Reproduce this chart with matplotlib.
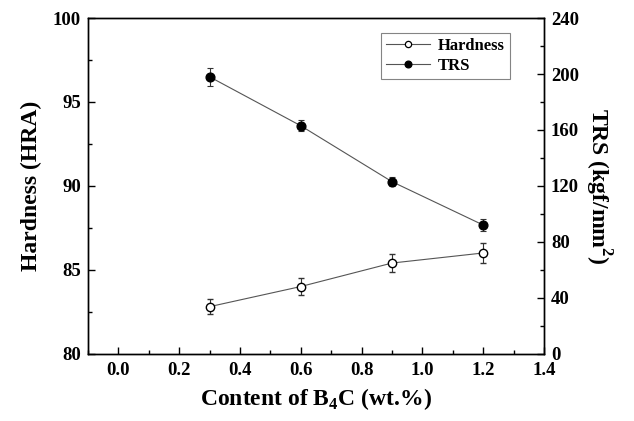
import matplotlib
matplotlib.use("Agg")
import matplotlib.pyplot as plt
from matplotlib.ticker import MultipleLocator, FormatStrFormatter
from matplotlib.lines import Line2D

plt.rcParams['font.family'] = ['Liberation Serif', 'DejaVu Serif']
plt.rcParams['font.weight'] = 'bold'
plt.rcParams['mathtext.fontset'] = 'custom'
plt.rcParams['mathtext.rm'] = 'Liberation Serif:bold'
plt.rcParams['mathtext.bf'] = 'Liberation Serif:bold'

b4c = [0.3, 0.6, 0.9, 1.2]
hardness = [82.8, 84.0, 85.4, 86.0]
hardness_err = [0.45, 0.5, 0.55, 0.6]
trs = [198, 163, 123, 92]
trs_err = [6.5, 4, 3, 4.5]

fig = plt.figure(figsize=(6.34, 4.21), dpi=100)
ax = fig.add_axes([0.1388, 0.16, 0.7192, 0.797])
ax2 = ax.twinx()

lc = '#555555'
ax.errorbar(b4c, hardness, yerr=hardness_err, fmt='-o', color=lc, lw=0.8,
            mfc='white', mec='black', mew=1.0, ms=6, ecolor='#333333',
            elinewidth=0.8, capsize=2.5, capthick=0.8)
ax2.errorbar(b4c, trs, yerr=trs_err, fmt='-o', color=lc, lw=0.8,
             mfc='black', mec='black', ms=6.3, ecolor='#333333',
             elinewidth=0.8, capsize=2.5, capthick=0.8)

ax.set_xlim(-0.1, 1.4)
ax.set_ylim(80, 100)
ax2.set_ylim(0, 240)
ax.xaxis.set_major_locator(MultipleLocator(0.2))
ax.xaxis.set_minor_locator(MultipleLocator(0.1))
ax.yaxis.set_major_locator(MultipleLocator(5))
ax.yaxis.set_minor_locator(MultipleLocator(2.5))
ax2.yaxis.set_major_locator(MultipleLocator(40))
ax2.yaxis.set_minor_locator(MultipleLocator(20))
ax.xaxis.set_major_formatter(FormatStrFormatter('%.1f'))

for a in (ax, ax2):
    for s in a.spines.values():
        s.set_linewidth(1.0)
ax.tick_params(axis='both', which='major', direction='in', length=5, width=1.0,
               labelsize=13.5, top=False, right=False)
ax.tick_params(axis='x', which='major', pad=6)
ax.tick_params(axis='y', which='major', pad=5)
ax.tick_params(axis='both', which='minor', direction='in', length=3, width=1.0,
               top=False, right=False)
ax2.tick_params(axis='y', which='major', direction='in', length=5, width=1.0,
                labelsize=13.5, pad=5)
ax2.tick_params(axis='y', which='minor', direction='in', length=3, width=1.0)

ax.set_xlabel(r'Content of B$_4$C (wt.%)', fontsize=17, fontweight='bold', labelpad=5)
ax.set_ylabel('Hardness (HRA)', fontsize=17, fontweight='bold', labelpad=8)
ax2.set_ylabel(r'TRS (kgf/mm$^2$)', fontsize=17, fontweight='bold', rotation=270,
               labelpad=25)

handles = [
    Line2D([], [], color=lc, lw=0.8, marker='o', ms=4.5, mfc='white', mec='black', mew=0.9),
    Line2D([], [], color=lc, lw=0.8, marker='o', ms=4.8, mfc='black', mec='black'),
]
leg = ax.legend(handles, ['Hardness', 'TRS'], loc='upper left',
                bbox_to_anchor=(0.643, 0.955), fontsize=12, frameon=True,
                fancybox=False, edgecolor='#666666',
                handlelength=2.6, handletextpad=0.5, borderpad=0.3,
                labelspacing=0.2, borderaxespad=0)
leg.get_frame().set_linewidth(0.8)

fig.savefig('out.png', dpi=100)
